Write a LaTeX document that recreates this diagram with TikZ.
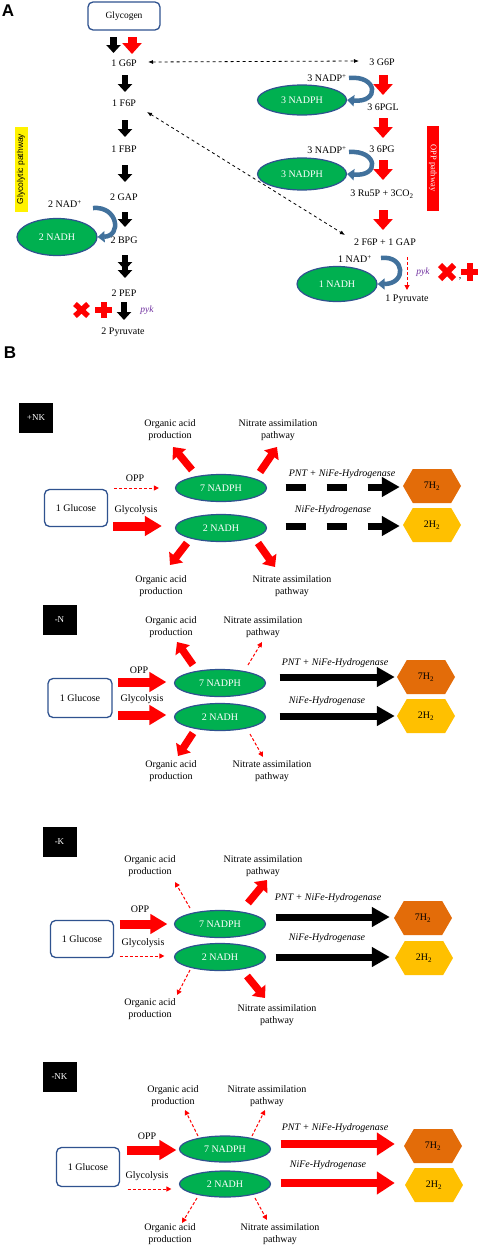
\documentclass[tikz,border=0pt]{standalone}
\usepackage{fontspec}
\setmainfont{Liberation Serif}
\newfontfamily\labsans{Liberation Sans}
\usetikzlibrary{arrows.meta,shapes.geometric,shapes.symbols,calc}
\definecolor{nadgreen}{RGB}{0,176,80}
\definecolor{edgeblue}{RGB}{47,82,143}
\definecolor{curvblue}{RGB}{65,113,156}
\definecolor{hexorange}{RGB}{227,108,9}
\definecolor{hexyellow}{RGB}{255,192,0}
\definecolor{pykpurple}{RGB}{112,48,160}
\begin{document}
\begin{tikzpicture}[x=1pt,y=-1pt,
  txt/.style={font=\fontsize{10}{11.5}\selectfont, inner sep=1pt},
  lbl/.style={font=\fontsize{10}{11.5}\selectfont, align=center, inner sep=1pt},
  ital/.style={font=\itshape\fontsize{10}{12}\selectfont, inner sep=1pt},
  pykst/.style={font=\itshape\fontsize{9.5}{11}\selectfont, text=pykpurple, inner sep=1pt},
  ell/.style={ellipse, fill=nadgreen, draw=edgeblue, line width=1.2pt, text=white, font=\fontsize{10}{12}\selectfont, inner sep=0pt, minimum width=91pt, minimum height=27pt},
  glc/.style={draw=edgeblue, line width=1.3pt, rounded corners=5pt, fill=white, minimum width=63pt, minimum height=37pt, font=\fontsize{10}{12}\selectfont},
  cond/.style={fill=black, text=white, minimum width=34pt, minimum height=30pt, font=\fontsize{9}{11}\selectfont, inner sep=0pt},
  hexa/.style={signal, signal to=west and east, signal pointer angle=120, minimum width=58pt, minimum height=34pt, inner sep=0pt, font=\fontsize{10}{12}\selectfont},
  panlab/.style={font=\labsans\bfseries\fontsize{17}{17}\selectfont, inner sep=0pt},
  blkA/.style={draw=black, line width=6.5pt, -{Triangle[length=8pt,width=14pt]}},
  blkAA/.style={draw=black, line width=6.5pt, -{Triangle[length=8pt,width=14pt] Triangle[length=8pt,width=14pt]}},
  redA/.style={draw=red, line width=9pt, -{Triangle[length=11pt,width=19pt]}},
  curv/.style={draw=curvblue, line width=4.5pt, -{Triangle[length=7pt,width=11pt]}},
  dashA/.style={draw=black, line width=0.8pt, dashed, {Latex[length=5pt,width=4pt]}-{Latex[length=5pt,width=4pt]}},
  fatR/.style={draw=red, line width=9pt, -{Triangle[length=17pt,width=19pt]}},
  fatK/.style={draw=black, line width=7pt, -{Triangle[length=18pt,width=19pt]}},
  fatKd/.style={fatK, dash pattern=on 20pt off 21pt},
  fatRH/.style={draw=red, line width=8pt, -{Triangle[length=18pt,width=22pt]}},
  diagR/.style={draw=red, line width=7.5pt, -{Triangle[length=10pt,width=17pt]}},
  thinR/.style={draw=red, line width=1pt, dash pattern=on 3pt off 2pt, -{Triangle[length=5pt,width=5pt]}}
]
\fill[white] (0,0) rectangle (477,1258);
\useasboundingbox (0,0) rectangle (477,1258);

% ================= Panel A =================
\node[panlab] (labA) at (8,11) {A};
\node[glc, minimum width=72pt, minimum height=28pt, font=\fontsize{9.5}{11}\selectfont] (glycogen) at (124,16) {Glycogen};
\node[txt] (g6p) at (124,63) {1 G6P};
\node[txt] (f6p) at (124,103) {1 F6P};
\node[txt] (fbp) at (124,149) {1 FBP};
\node[txt] (gap) at (124,197) {2 GAP};
\node[txt] (bpg) at (124,240) {2 BPG};
\node[txt] (pep) at (124,293) {2 PEP};
\node[txt] (pyr2) at (123,332) {2 Pyruvate};
\node[txt] (nad2) at (65,204) {2 NAD\textsuperscript{+}};
\node[ell, minimum width=80pt, minimum height=37pt] (nadhA) at (57,237) {2 NADH};
\node[fill=yellow, rotate=90, font=\labsans\fontsize{8.5}{10}\selectfont, minimum width=85pt, minimum height=13pt, inner sep=0pt] (glyc) at (21,169) {Glycolytic pathway};
\node[pykst] (pykA) at (147,310) {pyk};

\draw[blkA] ($(glycogen)+(-10.5,21)$) -- ($(g6p)+(-10.5,-10)$);
\draw[redA] ($(glycogen)+(8,21)$) -- ($(g6p)+(8,-9)$);
\draw[blkA] ($(g6p)+(1,12)$) -- ($(f6p)+(1,-11)$);
\draw[blkA] ($(f6p)+(1,17)$) -- ($(fbp)+(1,-12)$);
\draw[blkA] ($(fbp)+(1,16)$) -- ($(gap)+(1,-15)$);
\draw[blkA] ($(gap)+(1,15)$) -- ($(bpg)+(1,-13)$);
\draw[blkAA] ($(bpg)+(1,15)$) -- ($(pep)+(1,-15)$);
\draw[blkA] ($(pep)+(0,9)$) -- ($(pyr2)+(1,-12)$);
\draw[curv] ($(nad2)+(28,4)$) .. controls (118,206) and (122,236) .. (nadhA.east);

% X and plus
\draw[red, line width=5.5pt] (75,304) -- (88,316) (75,316) -- (88,304);
\fill[red] (100.5,302) rectangle (106.5,318);
\fill[red] (95,307) rectangle (112,313);

% right column
\node[txt] (g6pr) at (382,62) {3 G6P};
\node[txt] (nadp1) at (327,78) {3 NADP\textsuperscript{+}};
\node[ell, minimum width=89pt, minimum height=30pt] (nadph1A) at (302,100) {3 NADPH};
\node[txt] (pgl) at (383,107) {3 6PGL};
\node[txt] (pg) at (382,149) {3 6PG};
\node[txt] (nadp2) at (327,150) {3 NADP\textsuperscript{+}};
\node[ell, minimum width=89pt, minimum height=32pt] (nadph2A) at (302,174) {3 NADPH};
\node[txt] (ru5p) at (382,194) {3 Ru5P + 3CO\textsubscript{2}};
\node[txt] (f6pgap) at (385,242) {2 F6P + 1 GAP};
\node[fill=red, text=white, rotate=-90, font=\fontsize{8.5}{10}\selectfont, minimum width=85pt, minimum height=12pt, inner sep=0pt] (oppbox) at (433,168) {OPP pathway};
\node[txt] (nad1) at (355,259) {1 NAD\textsuperscript{+}};
\node[ell, minimum width=80pt, minimum height=35pt] (nadhA1) at (337,284) {1 NADH};
\node[txt] (pyr1) at (407,299) {1 Pyruvate};
\node[pykst] (pykB) at (423,272) {pyk};
\node[txt] (comma) at (460,279) {,};

\draw[redA] ($(g6pr)+(1,13)$) -- ($(pgl)+(0,-12)$);
\draw[redA] ($(pgl)+(0,11)$) -- ($(pg)+(1,-11)$);
\draw[redA] ($(pg)+(1,11)$) -- ($(ru5p)+(1,-14)$);
\draw[redA] ($(ru5p)+(1,16)$) -- ($(f6pgap)+(-2,-12)$);
\draw[curv] ($(nadp1)+(22,0)$) .. controls (378,75) and (380,103) .. (nadph1A.east);
\draw[curv] ($(nadp2)+(22,2)$) .. controls (378,150) and (380,177) .. (nadph2A.east);
\draw[curv] ($(nad1)+(26,-1)$) .. controls (405,255) and (407,284) .. (nadhA1.east);
\draw[thinR] ($(f6pgap)+(22,15)$) -- ($(pyr1)+(0,-9)$);

\draw[dashA] ($(g6p)+(24,-1)$) -- ($(g6pr)+(-23,-1)$);
\draw[dashA] ($(f6p)+(23,9)$) -- ($(f6pgap)+(-40,-7)$);

\draw[red, line width=6pt] (440,265) -- (454,279) (440,279) -- (454,265);
\fill[red] (467,263) rectangle (473,281);
\fill[red] (461,269) rectangle (479,275);

% ================= Panel B =================
\node[panlab] (labB) at (10,353) {B};

% ---- +NK ----
\node[cond] (c1) at (36,418) {+NK};
\node[glc] (glc1) at (76,508) {1 Glucose};
\node[ell] (ph1) at (221,488) {7 NADPH};
\node[ell] (nh1) at (221,528) {2 NADH};
\node[lbl] (oppl1) at (135,478) {OPP};
\node[lbl] (glyl1) at (136,510) {Glycolysis};
\node[lbl] (org1a) at (170,430) {Organic acid\\production};
\node[lbl] (nit1a) at (278,430) {Nitrate assimilation\\pathway};
\node[lbl] (org1b) at (161,586) {Organic acid\\production};
\node[lbl] (nit1b) at (292,586) {Nitrate assimilation\\pathway};
\node[ital] (pnt1) at (342,474) {PNT + NiFe-Hydrogenase};
\node[ital] (nife1) at (333,510) {NiFe-Hydrogenase};
\node[hexa, fill=hexorange] (h71) at (432,486) {7H\textsubscript{2}};
\node[hexa, fill=hexyellow] (h21) at (432,525) {2H\textsubscript{2}};
\draw[thinR] ($(glc1.east)+(6,-20)$) -- ($(ph1.west)+(-16,0)$);
\draw[fatR] ($(glc1.east)+(5,18)$) -- ($(nh1.west)+(-13,-2)$);
\draw[diagR] ($(ph1)+(-29,-18)$) -- ($(org1a)+(3,17)$);
\draw[diagR] ($(ph1)+(39,-16)$) -- ($(nit1a)+(-1,17)$);
\draw[diagR] ($(nh1)+(-34,15)$) -- ($(org1b)+(9,-21)$);
\draw[diagR] ($(nh1)+(37,15)$) -- ($(nit1b)+(-17,-19)$);
\draw[fatKd] ($(ph1.east)+(18.5,-1)$) -- ($(h71.west)+(-3,1)$);
\draw[fatKd] ($(nh1.east)+(18.5,-2)$) -- ($(h21.west)+(-3,1)$);

% ---- -N ----
\node[cond] (c2) at (59.5,620) {-N};
\node[glc, minimum width=64pt, minimum height=39pt] (glc2) at (80,698) {1 Glucose};
\node[ell] (ph2) at (220,683) {7 NADPH};
\node[ell] (nh2) at (220,717) {2 NADH};
\node[lbl] (oppl2) at (139,670) {OPP};
\node[lbl] (glyl2) at (142,699) {Glycolysis};
\node[lbl] (org2a) at (171,627) {Organic acid\\production};
\node[lbl] (nit2a) at (263,627) {Nitrate assimilation\\pathway};
\node[lbl] (org2b) at (171,771) {Organic acid\\production};
\node[lbl] (nit2b) at (272,771) {Nitrate assimilation\\pathway};
\node[ital] (pnt2) at (335,663) {PNT + NiFe-Hydrogenase};
\node[ital] (nife2) at (327,701) {NiFe-Hydrogenase};
\node[hexa, fill=hexorange] (h72) at (426,677) {7H\textsubscript{2}};
\node[hexa, fill=hexyellow] (h22) at (426,716) {2H\textsubscript{2}};
\draw[fatR] ($(glc2.east)+(5.5,-16)$) -- ($(ph2.west)+(-7.5,-1)$);
\draw[fatR] ($(glc2.east)+(5.5,17)$) -- ($(nh2.west)+(-7.5,-2)$);
\draw[diagR] ($(ph2)+(-27,-18)$) -- ($(org2a)+(6,15)$);
\draw[thinR] ($(ph2)+(28,-18)$) -- ($(nit2a)+(-1,15)$);
\draw[fatK] ($(ph2.east)+(13.5,-6)$) -- ($(h72.west)+(-2,0)$);
\draw[fatK] ($(nh2.east)+(13.5,-1)$) -- ($(h22.west)+(-2,0)$);
\draw[diagR] ($(nh2)+(-27,16)$) -- ($(org2b)+(7,-15)$);
\draw[thinR] ($(nh2)+(30,17)$) -- ($(nit2b)+(-9,-14)$);

% ---- -K ----
\node[cond] (c3) at (59.5,842) {-K};
\node[glc] (glc3) at (82,939) {1 Glucose};
\node[ell] (ph3) at (220,924) {7 NADPH};
\node[ell] (nh3) at (220,957) {2 NADH};
\node[lbl] (oppl3) at (140,909) {OPP};
\node[lbl] (glyl3) at (143,943) {Glycolysis};
\node[lbl] (org3a) at (150,866) {Organic acid\\production};
\node[lbl] (nit3a) at (263,866) {Nitrate assimilation\\pathway};
\node[lbl] (org3b) at (150,1009) {Organic acid\\production};
\node[lbl] (nit3b) at (277,1015) {Nitrate assimilation\\pathway};
\node[ital] (pnt3) at (328,898) {PNT + NiFe-Hydrogenase};
\node[ital] (nife3) at (327,938) {NiFe-Hydrogenase};
\node[hexa, fill=hexorange] (h73) at (423,918) {7H\textsubscript{2}};
\node[hexa, fill=hexyellow] (h23) at (424,958) {2H\textsubscript{2}};
\draw[fatR] ($(glc3.east)+(5.5,-15)$) -- ($(ph3.west)+(-6.5,0)$);
\draw[thinR] ($(glc3.east)+(5.5,17)$) -- ($(nh3.west)+(-9.5,-1)$);
\draw[thinR] ($(ph3)+(-30,-16)$) -- ($(org3a)+(25,16)$);
\draw[diagR] ($(ph3)+(28,-21)$) -- ($(nit3a)+(4,14)$);
\draw[fatK] ($(ph3.east)+(9.5,-7)$) -- ($(h73.west)+(-4,-1)$);
\draw[fatK] ($(nh3.east)+(9.5,0)$) -- ($(h23.west)+(-5,-1)$);
\draw[thinR] ($(nh3)+(-30,13)$) -- ($(org3b)+(27,-14)$);
\draw[diagR] ($(nh3)+(27,19)$) -- ($(nit3b)+(-12,-17)$);

% ---- -NK ----
\node[cond] (c4) at (59.5,1077) {-NK};
\node[glc, minimum height=39pt] (glc4) at (88,1167) {1 Glucose};
\node[ell, minimum height=26pt] (ph4) at (225,1149) {7 NADPH};
\node[ell, minimum height=26pt] (nh4) at (225,1184) {2 NADH};
\node[lbl] (oppl4) at (147,1136) {OPP};
\node[lbl] (glyl4) at (147,1176) {Glycolysis};
\node[lbl] (org4a) at (173,1096) {Organic acid\\production};
\node[lbl] (nit4a) at (267,1096) {Nitrate assimilation\\pathway};
\node[lbl] (org4b) at (170,1234) {Organic acid\\production};
\node[lbl] (nit4b) at (280,1234) {Nitrate assimilation\\pathway};
\node[ital] (pnt4) at (335,1128) {PNT + NiFe-Hydrogenase};
\node[ital] (nife4) at (328,1165) {NiFe-Hydrogenase};
\node[hexa, fill=hexorange] (h74) at (433,1146) {7H\textsubscript{2}};
\node[hexa, fill=hexyellow] (h24) at (434,1185) {2H\textsubscript{2}};
\draw[fatR] ($(glc4.east)+(6.5,-17)$) -- ($(ph4.west)+(-2.5,1)$);
\draw[thinR] ($(glc4.east)+(7.5,22)$) -- ($(nh4.west)+(-7.5,5)$);
\draw[thinR] ($(ph4)+(-27,-13)$) -- ($(org4a)+(12,14)$);
\draw[thinR] ($(ph4)+(27,-13)$) -- ($(nit4a)+(-2,14)$);
\draw[fatRH] ($(ph4.east)+(9.5,-5)$) -- ($(h74.west)+(-9,-2)$);
\draw[fatRH] ($(nh4.east)+(9.5,-1)$) -- ($(h24.west)+(-10,-2)$);
\draw[thinR] ($(nh4)+(-28,14)$) -- ($(org4b)+(12,-11)$);
\draw[thinR] ($(nh4)+(30,14)$) -- ($(nit4b)+(-13,-14)$);
\end{tikzpicture}
\end{document}
